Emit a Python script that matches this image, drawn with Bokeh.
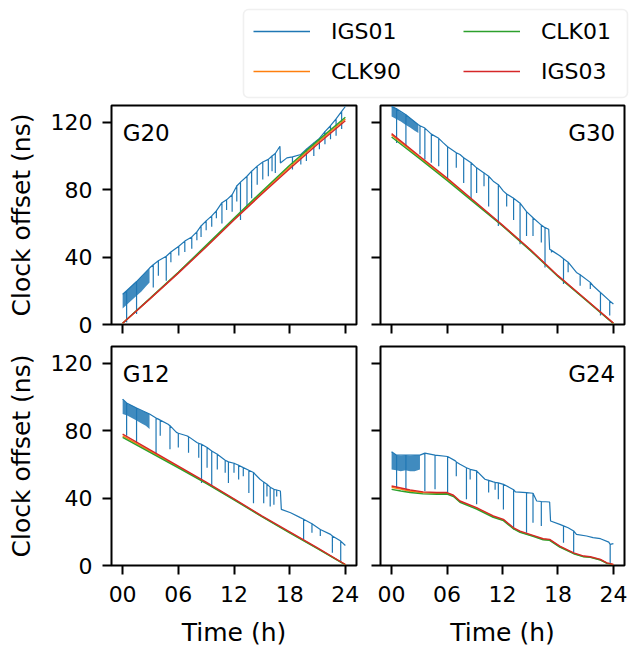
import numpy as np
from bokeh.plotting import figure
from bokeh.models import Range1d, FixedTicker, Label, Legend, LegendItem, BoxAnnotation
from bokeh.layouts import column, row
from bokeh.embed import file_html
from bokeh.resources import INLINE

FONT = "DejaVu Sans"
C_IGS01, C_CLK90, C_CLK01, C_IGS03 = "#1f77b4", "#ff7f0e", "#2ca02c", "#d62728"
SERIES = ["IGS01", "CLK90", "CLK01", "IGS03"]
X_TICKS = [0, 6, 12, 18, 24]
X_TICK_LABELS = ["00", "06", "12", "18", "24"]
Y_TICKS = [0, 40, 80, 120]
nan = float("nan")

# ---------------- G20 ----------------
t_lo_20 = [0, 3, 6, 9, 12, 15, 18, 21, 24]
igs03_20 = [0.8, 15.5, 30.5, 46.0, 62.0, 77.5, 92.5, 107.0, 121.0]
clk01_20 = [0.8, 15.8, 31.0, 47.0, 63.0, 79.0, 94.5, 109.0, 123.0]
clk90_20 = [0.8, 15.6, 30.8, 46.5, 62.5, 78.2, 93.5, 108.0, 122.0]
band_t_20 = [0, 0.5, 1.0, 1.5, 2.0, 2.5, 2.9]
band_hi_20 = [18, 20.5, 23, 25.5, 28, 31, 33.5]
band_lo_20 = [9.5, 12, 14.5, 17, 19.5, 22.5, 25]
igs01_t_20 = [0.0, 0.43, 1.5, 2.9, 3.3, 3.85, 4.7, 5.2, 6.05, 6.7, 7.45, 8.0, 8.45, 9.0, 9.6,
              10.1, 10.7, 11.2, 11.8, 12.3, 12.7, 13.4, 13.9, 14.5, 15.1, 15.7, 16.1, 16.45,
              16.95, 17.0, 17.7, 18.3, 19.2, 19.8, 20.6, 21.2, 21.8, 22.4, 23.0, 23.6, 24.0]
igs01_v_20 = [18, 20, 25.5, 33.5, 35.5, 37.8, 40.5, 43, 46.5, 49.5, 52, 55, 58.5, 61.5, 64.5,
              67.5, 72.3, 74, 77, 82.2, 84.5, 88, 91, 94, 96.5, 98, 100, 101.5,
              105.8, 95.9, 98.9, 99.5, 100.9, 104, 107.8, 110.5, 114.5, 118, 122, 126.5, 129.4]
igs01_dip_20 = [nan, 1.4, 6.3, nan, 22, 29, 26, 37, 41, 43, 45, 50, 52, 56, 58,
                63, 60, 68, 67, 73, 62, 69, 75, 83, 86, 88, 91, 90,
                nan, nan, nan, 92, 95, 97, 100, 104, 107, 110, 112, 116, nan]

# ---------------- G30 ----------------
t_lo_30 = [0, 3, 6, 9, 12, 15, 18, 21, 24]
igs03_30 = [113.3, 100.0, 87.0, 73.0, 59.0, 44.5, 29.0, 15.0, 0.8]
clk01_30 = [111.3, 98.5, 85.5, 72.0, 58.5, 44.0, 28.5, 14.5, 0.5]
clk90_30 = [112.5, 99.3, 86.3, 72.6, 58.8, 44.3, 28.8, 14.8, 0.7]
band_t_30 = [0, 0.5, 1.0, 1.5, 2.0, 2.5, 2.9]
band_hi_30 = [129.5, 128, 126, 124.5, 122.5, 120.5, 118.6]
band_lo_30 = [123.5, 122, 120.5, 118.5, 117, 115, 113.7]
igs01_t_30 = [0.0, 0.54, 1.55, 2.9, 3.07, 3.6, 4.3, 5.1, 5.6, 6.06, 7.0, 7.4, 7.8, 8.6, 9.2,
              10.0, 10.5, 11.0, 11.55, 12.1, 12.45, 13.2, 13.9, 14.6, 15.3, 16.2, 16.6, 17.0,
              17.1, 17.3, 18.2, 18.6, 19.1, 20.0, 20.4, 21.5, 21.8, 22.6, 23.6, 24.0]
igs01_v_30 = [129.5, 128, 124.5, 118.6, 118, 116.6, 113, 110.5, 107.8, 105.5, 102, 100.9, 99, 96, 93,
              90, 88, 85.1, 83, 79.2, 77.5, 75, 72, 67, 63.4, 59, 57.5, 56.5,
              44.7, 44, 40.8, 39, 37, 30.9, 29.5, 25, 23, 19, 14, 12.2]
igs01_dip_30 = [nan, 107.8, 105.8, nan, 101, 98, 96, 94, nan, 87, 93, nan, 84, 74.3, 78,
                82, 70, nan, 58.5, nan, 70, 62, 47.7, 52.6, 52.6, 48.7, 33.9, nan,
                nan, 42.7, nan, 24, 31, nan, 23, 21, nan, 5.3, 5.3, nan]

# ---------------- G12 ----------------
t_lo_12 = [0, 3, 6, 9, 12, 15, 18, 21, 24]
igs03_12 = [78.0, 68.5, 59.0, 49.5, 39.5, 29.5, 20.0, 10.5, 0.6]
clk01_12 = [76.0, 67.0, 58.0, 48.7, 39.0, 29.0, 19.3, 10.0, 0.4]
clk90_12 = [77.0, 67.8, 58.5, 49.1, 39.2, 29.2, 19.6, 10.2, 0.5]
band_t_12 = [0, 0.5, 1.0, 1.5, 2.0, 2.5, 2.9]
band_hi_12 = [98.8, 96, 95, 93.5, 92, 91, 89.9]
band_lo_12 = [89.9, 89, 87.5, 86, 84.5, 83, 81]
igs01_t_12 = [0.0, 0.43, 1.5, 2.9, 3.6, 3.85, 4.05, 4.9, 5.1, 5.8, 6.0, 6.9, 7.1, 8.0, 8.2,
              8.5, 9.1, 9.6, 10.2, 11.05, 11.4, 12.0, 12.5, 13.0, 13.6, 14.1, 14.8, 15.2,
              15.55, 15.9, 16.3, 16.6, 17.0, 17.1, 18.1, 19.15, 19.5, 20.2, 20.4, 21.3,
              22.4, 22.6, 23.5, 24.0]
igs01_v_12 = [98.8, 96.5, 93.5, 89.9, 87.5, 86.9, 86.3, 83.9, 83, 79, 78.5, 77, 76.5, 73, 72.5,
              72, 70, 68, 66, 62.5, 61.5, 60.7, 59.5, 58.1, 56.5, 55.2, 51.2, 49.5,
              48.2, 46.5, 45.2, 44.8, 44.2, 33.3, 31.3, 28.4, 27.5, 25.4, 24.8, 21.4,
              18.5, 17.5, 14.5, 11.9]
igs01_dip_12 = [nan, 77, 73, nan, 66, nan, 77, nan, 69, nan, 70, nan, 67, nan, 64,
                49, 58, 47, 57, 55, 49, 55, 51, 53, 43, 37, nan, 37,
                41, 35, 36, 41, nan, nan, nan, nan, 15.5, nan, 19.4, 17.5,
                nan, 7.5, 1.6, nan]

# ---------------- G24 ----------------
t_lo_24 = [0, 1, 2, 3.4, 4.9, 6.0, 6.7, 7.4, 9.2, 11.0, 12.1, 13.2, 13.9, 15.3, 16.4, 17.1,
           18.2, 19.7, 20.8, 21.5, 22.6, 23.3, 24]
igs03_24 = [47.2, 46.0, 44.8, 43.7, 43.3, 43.3, 41.7, 38.3, 34.3, 29.4, 27.4, 22.4, 20.4, 17.9,
            15.9, 15.5, 11.5, 7.5, 5.6, 5.2, 3.6, 1.6, 0.6]
clk01_24 = [45.2, 44.2, 43.3, 42.5, 42.3, 42.4, 40.9, 37.5, 33.5, 28.6, 26.6, 21.7, 19.7, 17.3,
            15.3, 14.9, 10.9, 7.0, 5.1, 4.8, 3.2, 1.3, 0.4]
clk90_24 = [46.4, 45.3, 44.1, 43.2, 42.9, 42.9, 41.3, 37.9, 33.9, 29.0, 27.0, 22.0, 20.0, 17.6,
            15.6, 15.2, 11.2, 7.2, 5.3, 5.0, 3.4, 1.4, 0.5]
band_t_24 = [0, 0.5, 1.0, 1.5, 2.0, 2.5, 3.07]
band_hi_24 = [67.5, 65.5, 65, 65.5, 65, 65.5, 65.5]
band_lo_24 = [57, 56.5, 56, 56.5, 56, 56, 57]
igs01_t_24 = [0.0, 0.54, 1.55, 3.07, 3.6, 4.7, 6.06, 6.9, 7.0, 7.4, 8.1, 8.5, 9.2, 10.1, 10.5,
              11.0, 11.2, 11.55, 12.1, 12.8, 13.2, 13.4, 14.6, 15.3, 15.7, 16.2, 17.1, 17.2,
              18.2, 18.6, 19.1, 19.7, 20.0, 21.1, 21.8, 22.6, 23.5, 23.65, 24.0]
igs01_v_24 = [67.5, 65.5, 65.5, 65.5, 66.7, 65.5, 64.7, 62.1, 61.5, 60.1, 58, 57.1, 56.2, 51.2, 50.5,
              49.6, 49.3, 49, 48.2, 46.2, 45, 43.7, 43.3, 42.9, 38.3, 38, 37.7, 26.4,
              24.4, 23.5, 22.4, 20.5, 18.5, 17.5, 16.5, 15.9, 13.9, 12.5, 13]
igs01_dip_24 = [nan, 46.2, 45.2, nan, 44.2, 45.2, 43.3, nan, 53, nan, 39.3, 51, 36.3, nan, 43.3,
                nan, 45, 39.3, 33.3, nan, 21.4, nan, 19.4, 25.4, nan, 23.4, nan, nan,
                nan, 13.5, nan, 7.5, nan, nan, nan, nan, nan, 0.6, nan]

PANELS = [
    dict(name="G20", t_lo=t_lo_20, clk90=clk90_20, clk01=clk01_20, igs03=igs03_20,
         bt=band_t_20, bh=band_hi_20, bl=band_lo_20, it=igs01_t_20, iv=igs01_v_20, idp=igs01_dip_20),
    dict(name="G30", t_lo=t_lo_30, clk90=clk90_30, clk01=clk01_30, igs03=igs03_30,
         bt=band_t_30, bh=band_hi_30, bl=band_lo_30, it=igs01_t_30, iv=igs01_v_30, idp=igs01_dip_30),
    dict(name="G12", t_lo=t_lo_12, clk90=clk90_12, clk01=clk01_12, igs03=igs03_12,
         bt=band_t_12, bh=band_hi_12, bl=band_lo_12, it=igs01_t_12, iv=igs01_v_12, idp=igs01_dip_12),
    dict(name="G24", t_lo=t_lo_24, clk90=clk90_24, clk01=clk01_24, igs03=igs03_24,
         bt=band_t_24, bh=band_hi_24, bl=band_lo_24, it=igs01_t_24, iv=igs01_v_24, idp=igs01_dip_24),
]

LW = 1.2
LW_LO = 1.4
COLORS = {"IGS01": C_IGS01, "CLK90": C_CLK90, "CLK01": C_CLK01, "IGS03": C_IGS03}


def igs01_path(ts, vs, dips):
    xs, ys = [], []
    for t, v, d in zip(ts, vs, dips):
        xs.append(t); ys.append(v)
        if not np.isnan(d):
            xs += [t, t]; ys += [d, v]
    return xs, ys


def make_panel(pd, left_col, bottom_row):
    w = 368 if left_col else 262
    h = 315 if bottom_row else 240
    p = figure(width=w, height=h, x_range=Range1d(-1.2, 25.2), y_range=Range1d(0, 130),
               output_backend="svg", toolbar_location=None,
               min_border_left=111 if left_col else 12,
               min_border_right=12 if left_col else 6,
               min_border_top=6 if bottom_row else 5,
               min_border_bottom=90 if bottom_row else 16)
    p.grid.visible = False
    p.outline_line_color = "black"
    p.outline_line_width = 2
    p.background_fill_color = "white"
    p.border_fill_color = "white"

    for ax in (p.xaxis[0], p.yaxis[0]):
        ax.major_tick_out = 9
        ax.major_tick_in = 0
        ax.minor_tick_out = 0
        ax.minor_tick_in = 0
        ax.major_tick_line_width = 2
        ax.axis_line_color = None
        ax.major_label_text_font = FONT
        ax.axis_label_text_font = FONT
        ax.axis_label_text_font_style = "normal"
        ax.major_label_text_color = "black"
        ax.axis_label_text_color = "black"

    xa = p.xaxis[0]
    xa.ticker = FixedTicker(ticks=X_TICKS)
    if bottom_row:
        xa.major_label_overrides = {t: s for t, s in zip(X_TICKS, X_TICK_LABELS)}
        xa.major_label_text_font_size = "22px"
        xa.major_label_standoff = 11
        xa.axis_label = "Time (h)"
        xa.axis_label_text_font_size = "25px"
        xa.axis_label_standoff = 13
    else:
        xa.major_label_overrides = {t: "" for t in X_TICKS}
        xa.major_label_text_font_size = "1px"
        xa.major_label_standoff = 0

    ya = p.yaxis[0]
    ya.ticker = FixedTicker(ticks=Y_TICKS)
    if left_col:
        ya.major_label_text_font_size = "22px"
        ya.major_label_standoff = 10
        ya.axis_label = "Clock offset (ns)"
        ya.axis_label_text_font_size = "25px"
        ya.axis_label_standoff = 12
    else:
        ya.major_label_overrides = {t: "" for t in Y_TICKS}
        ya.major_label_text_font_size = "1px"
        ya.major_label_standoff = 0

    xs, ys = igs01_path(pd["it"], pd["iv"], pd["idp"])
    p.varea(x=pd["bt"], y1=pd["bl"], y2=pd["bh"], fill_color=C_IGS01, fill_alpha=0.85)
    p.line(xs, ys, line_color=C_IGS01, line_width=LW)
    p.line(pd["t_lo"], pd["clk90"], line_color=C_CLK90, line_width=LW_LO)
    p.line(pd["t_lo"], pd["clk01"], line_color=C_CLK01, line_width=LW_LO)
    p.line(pd["t_lo"], pd["igs03"], line_color=C_IGS03, line_width=LW_LO)

    if left_col:
        lab = Label(x=0, y=113.5, text=pd["name"], text_align="left")
    else:
        lab = Label(x=24.2, y=113.5, text=pd["name"], text_align="right")
    lab.text_font = FONT
    lab.text_font_size = "23px"
    lab.text_baseline = "alphabetic"
    lab.text_color = "black"
    p.add_layout(lab)
    return p


# ---------------- legend strip ----------------
lg = figure(width=630, height=100, x_range=Range1d(0, 630), y_range=Range1d(0, 100),
            output_backend="svg", toolbar_location=None, min_border=0,
            x_axis_location=None, y_axis_location=None, outline_line_color=None)
lg.grid.visible = False
lg.add_layout(BoxAnnotation(left=243, right=627, bottom=3, top=91, fill_color="white",
                            fill_alpha=1, line_color="#cccccc", line_width=1.6,
                            border_radius=5))
rends = {}
for nm in SERIES:
    rends[nm] = lg.line(x=[nan, nan], y=[nan, nan], line_color=COLORS[nm],
                        line_width=1.5, line_alpha=1.0)


def mk_legend(names, xloc):
    return Legend(items=[LegendItem(label=n, renderers=[rends[n]]) for n in names],
                  location=(xloc, 16), orientation="vertical", padding=0, margin=0,
                  spacing=14, glyph_width=57, glyph_height=26, label_height=26,
                  label_standoff=21, label_text_font=FONT, label_text_font_size="22px",
                  label_text_color="black",
                  border_line_color=None, background_fill_alpha=0)


lg.add_layout(mk_legend(["IGS01", "CLK90"], 253))
lg.add_layout(mk_legend(["CLK01", "IGS03"], 463))

pA = make_panel(PANELS[0], True, False)
pB = make_panel(PANELS[1], False, False)
pC = make_panel(PANELS[2], True, True)
pD = make_panel(PANELS[3], False, True)

layout = column(lg, row(pA, pB, spacing=0), row(pC, pD, spacing=0), spacing=0)
open("out.html", "w").write(file_html(layout, INLINE))
